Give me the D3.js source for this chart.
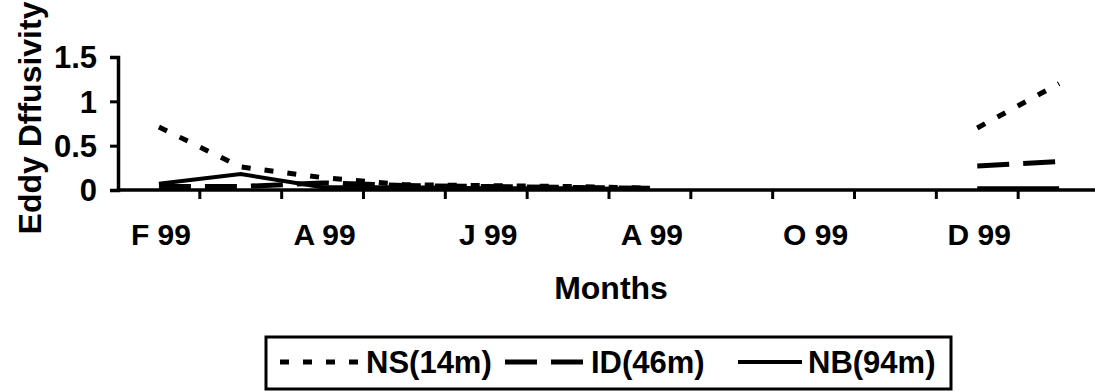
<!DOCTYPE html>
<html>
<head>
<meta charset="utf-8">
<script src="https://cdn.jsdelivr.net/npm/d3@7"></script>
<style>
  body { margin: 0; background: #fff; }
  text { font-family: "Liberation Sans", Arial, sans-serif; font-weight: bold; fill: #000; }
</style>
</head>
<body>
<div id="chart"></div>
<script>
/* DATA */
var months = ["F 99","M 99","A 99","M 99","J 99","J 99","A 99","S 99","O 99","N 99","D 99","J 00"];
var shownLabels = [0, 2, 4, 6, 8, 10]; /* every other month is labelled */
var yTicks = [0, 0.5, 1, 1.5];
var seriesNames = ["NS(14m)", "ID(46m)", "NB(94m)"];
var ns = [0.71, 0.26, 0.14, 0.06, 0.05, 0.04, 0.02, null, null, null, 0.70, 1.20];
var id = [0.04, 0.04, 0.08, 0.05, 0.04, 0.03, 0.02, null, null, null, 0.27, 0.32];
var nb = [0.07, 0.18, 0.03, 0.03, 0.02, 0.02, 0.01, null, null, null, 0.02, 0.02];

var svgWidth = 1095;  /* width of the svg */
var svgHeight = 391;  /* height of the svg */
var plotLeft = 118, plotRight = 1100, plotTop = 57, plotBottom = 190; /* plot area */

var theSVG = d3.select("#chart")
    .append("svg")
    .attr("width", svgWidth)
    .attr("height", svgHeight)
;

var x = d3.scaleBand().domain(d3.range(months.length)).range([plotLeft, plotRight]);
var y = d3.scaleLinear().domain([0, 1.5]).range([plotBottom, plotTop]);

/* Y axis */
var yAxis = theSVG.append("g")
    .attr("transform", "translate(" + plotLeft + ",0)")
    .call(d3.axisLeft(y).tickValues(yTicks).tickSize(8).tickPadding(13)
        .tickFormat(function (d) { return d; }))
;
yAxis.select(".domain").attr("stroke", "#000").attr("stroke-width", 3.5);
yAxis.selectAll(".tick line").attr("stroke", "#000").attr("stroke-width", 3);
yAxis.selectAll(".tick text")
    .style("font-size", "31px")
    .style("font-family", "'Liberation Sans', Arial, sans-serif")
    .style("font-weight", "bold")
    .attr("dy", "0.35em")
;

/* X axis: ticks on the category boundaries */
var xAxisG = theSVG.append("g");
xAxisG.append("line")
    .attr("x1", plotLeft).attr("x2", plotRight)
    .attr("y1", plotBottom).attr("y2", plotBottom)
    .attr("stroke", "#000").attr("stroke-width", 3.5)
;
xAxisG.selectAll("line.tick")
    .data(d3.range(1, months.length))
    .enter().append("line")
    .attr("class", "tick")
    .attr("x1", function (d) { return x(d); })
    .attr("x2", function (d) { return x(d); })
    .attr("y1", plotBottom).attr("y2", plotBottom + 9)
    .attr("stroke", "#000").attr("stroke-width", 3)
;
xAxisG.selectAll("text")
    .data(shownLabels)
    .enter().append("text")
    .attr("x", function (d) { return x(d) + x.bandwidth() / 2 + 2; })
    .attr("y", 245)
    .attr("text-anchor", "middle")
    .style("font-size", "30px")
    .text(function (d) { return months[d]; })
;

/* Axis titles */
theSVG.append("text")
    .attr("transform", "translate(41,118) rotate(-90)")
    .attr("text-anchor", "middle")
    .style("font-size", "32px")
    .text("Eddy Dffusivity")
;
theSVG.append("text")
    .attr("x", 611)
    .attr("y", 299)
    .attr("text-anchor", "middle")
    .style("font-size", "32px")
    .text("Months")
;

/* Lines */
var styles = [
    { dash: "9,14", w: 5 },
    { dash: "32,14", w: 5 },
    { dash: null, w: 4 }
];
var allSeries = [ns, id, nb];

var line = d3.line()
    .defined(function (d) { return d != null; })
    .x(function (d, i) { return x(i) + x.bandwidth() / 2; })
    .y(function (d) { return y(d); })
;

theSVG.append("g").selectAll("path")
    .data(allSeries)
    .enter().append("path")
    .attr("d", line)
    .attr("fill", "none")
    .attr("stroke", "#000")
    .attr("stroke-width", function (d, i) { return styles[i].w; })
    .attr("stroke-dasharray", function (d, i) { return styles[i].dash; })
;

/* Legend */
var legend = theSVG.append("g");
legend.append("rect")
    .attr("x", 266).attr("y", 337)
    .attr("width", 685).attr("height", 52)
    .attr("fill", "#fff")
    .attr("stroke", "#000").attr("stroke-width", 3)
;
var legendX = [280, 505, 738];
var legendLen = [80, 80, 64];
legendX.forEach(function (lx, i) {
    legend.append("line")
        .attr("x1", lx).attr("x2", lx + legendLen[i])
        .attr("y1", 362).attr("y2", 362)
        .attr("stroke", "#000")
        .attr("stroke-width", styles[i].w)
        .attr("stroke-dasharray", styles[i].dash)
    ;
    legend.append("text")
        .attr("x", lx + legendLen[i] + 6)
        .attr("y", 373)
        .style("font-size", "31px")
        .text(seriesNames[i])
    ;
});
</script>
</body>
</html>
